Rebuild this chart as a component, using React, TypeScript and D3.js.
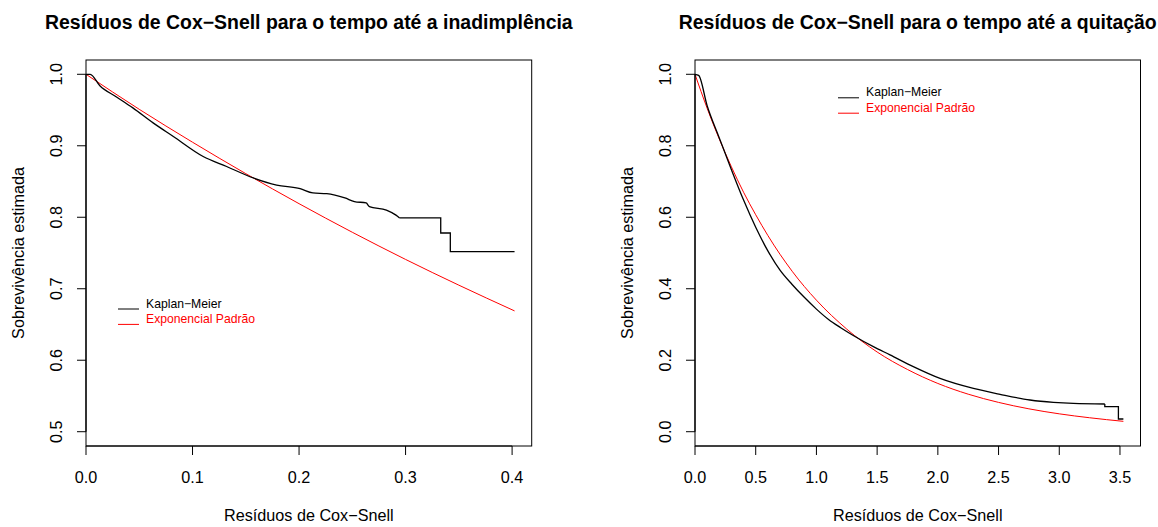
import React from "react";
import * as d3 from "d3";

// ---- Panel 1: tempo até a inadimplência ----
const defaultTitle = "Resíduos de Cox−Snell para o tempo até a inadimplência";
const defaultXTicks = [0.0, 0.1, 0.2, 0.3, 0.4];
const defaultYTicks = [0.5, 0.6, 0.7, 0.8, 0.9, 1.0];
// Kaplan–Meier estimate of the residuals: smooth-looking body, then the step tail
const defaultKmBodyX = [0, 0.004, 0.013, 0.029, 0.044, 0.063, 0.082, 0.110, 0.132, 0.157, 0.179, 0.201, 0.213, 0.226, 0.243, 0.252, 0.263, 0.266, 0.282, 0.291, 0.2944];
const defaultKmBodyY = [1.0, 1.0, 0.984, 0.968, 0.953, 0.932, 0.913, 0.885, 0.871, 0.855, 0.845, 0.840, 0.834, 0.833, 0.827, 0.822, 0.820, 0.815, 0.810, 0.803, 0.799];
const defaultKmTailX = [0.2944, 0.333, 0.333, 0.342, 0.342, 0.4023];
const defaultKmTailY = [0.799, 0.799, 0.778, 0.778, 0.752, 0.752];
// Standard exponential survival
const defaultExpX = [0, 0.05, 0.10, 0.15, 0.20, 0.25, 0.30, 0.35, 0.4023];
const defaultExpY = [1.0, 0.951, 0.905, 0.861, 0.819, 0.779, 0.741, 0.705, 0.669];

// ---- Panel 2: tempo até a quitação ----
const payoffTitle = "Resíduos de Cox−Snell para o tempo até a quitação";
const payoffXTicks = [0.0, 0.5, 1.0, 1.5, 2.0, 2.5, 3.0, 3.5];
const payoffYTicks = [0.0, 0.2, 0.4, 0.6, 0.8, 1.0];
const payoffKmBodyX = [0, 0.03, 0.10, 0.20, 0.30, 0.40, 0.50, 0.60, 0.70, 0.80, 0.90, 1.00, 1.10, 1.20, 1.30, 1.469, 1.606, 1.798, 2.018, 2.293, 2.512, 2.759, 2.952, 3.116, 3.375];
const payoffKmBodyY = [1.0, 0.997, 0.912, 0.822, 0.733, 0.648, 0.572, 0.506, 0.452, 0.412, 0.376, 0.343, 0.314, 0.291, 0.270, 0.238, 0.215, 0.182, 0.149, 0.121, 0.1046, 0.0887, 0.082, 0.079, 0.0775];
const payoffKmTailX = [3.375, 3.375, 3.487, 3.487, 3.528];
const payoffKmTailY = [0.0775, 0.070, 0.070, 0.0355, 0.0355];
const payoffExpX = [0, 0.1, 0.2, 0.3, 0.4, 0.5, 0.6, 0.8, 1.0, 1.25, 1.5, 1.75, 2.0, 2.25, 2.5, 2.75, 3.0, 3.25, 3.528];
const payoffExpY = [1.0, 0.905, 0.819, 0.741, 0.670, 0.607, 0.549, 0.449, 0.368, 0.287, 0.223, 0.174, 0.135, 0.105, 0.082, 0.064, 0.050, 0.039, 0.029];

const legendLabels = ["Kaplan−Meier", "Exponencial Padrão"];
const legendColors = ["#000000", "#ff0000"];

const xLabel = "Resíduos de Cox−Snell";
const yLabel = "Sobrevivência estimada";

const FONT = "'Liberation Sans', Arial, Helvetica, sans-serif";
const BASE = 16.2;

type PanelProps = {
  left: number;
  right: number;
  top: number;
  bottom: number;
  xDomain: [number, number];
  yDomain: [number, number];
  title: string;
  xTicks: number[];
  yTicks: number[];
  kmBodyX: number[];
  kmBodyY: number[];
  kmTailX: number[];
  kmTailY: number[];
  expX: number[];
  expY: number[];
  legendX: number;
  legendY: number;
};

const zip = (a: number[], b: number[]) => a.map((v, i) => [v, b[i]] as [number, number]);

function Panel(p: PanelProps) {
  const x = d3.scaleLinear().domain(p.xDomain).range([p.left, p.right]);
  const y = d3.scaleLinear().domain(p.yDomain).range([p.bottom, p.top]);
  const fmt = d3.format(".1f");

  const smooth = d3
    .line<[number, number]>()
    .x((d) => x(d[0]))
    .y((d) => y(d[1]))
    .curve(d3.curveMonotoneX);
  const straight = d3
    .line<[number, number]>()
    .x((d) => x(d[0]))
    .y((d) => y(d[1]))
    .curve(d3.curveLinear);

  const cx = (p.left + p.right) / 2;
  const cy = (p.top + p.bottom) / 2;
  const xt0 = x(p.xTicks[0]);
  const xt1 = x(p.xTicks[p.xTicks.length - 1]);
  const yt0 = y(p.yTicks[0]);
  const yt1 = y(p.yTicks[p.yTicks.length - 1]);
  const tick = 9;

  return (
    <g fontFamily={FONT}>
      <text x={cx} y={28.5} textAnchor="middle" fontWeight="bold" fontSize={BASE * 1.2} fill="#000">
        {p.title}
      </text>

      <path d={smooth(zip(p.expX, p.expY)) || ""} fill="none" stroke="#ff0000" strokeWidth={1} />
      <path d={smooth(zip(p.kmBodyX, p.kmBodyY)) || ""} fill="none" stroke="#000" strokeWidth={1.3} />
      <path d={straight(zip(p.kmTailX, p.kmTailY)) || ""} fill="none" stroke="#000" strokeWidth={1.3} />

      <rect
        x={p.left}
        y={p.top}
        width={p.right - p.left}
        height={p.bottom - p.top}
        fill="none"
        stroke="#000"
        strokeWidth={1}
      />

      {/* x axis */}
      <line x1={xt0} x2={xt1} y1={p.bottom} y2={p.bottom} stroke="#000" strokeWidth={1.2} />
      {p.xTicks.map((t) => (
        <g key={"xt" + t}>
          <line x1={x(t)} x2={x(t)} y1={p.bottom} y2={p.bottom + tick} stroke="#000" strokeWidth={1} />
          <text x={x(t)} y={482.5} textAnchor="middle" fontSize={BASE} fill="#000">
            {fmt(t)}
          </text>
        </g>
      ))}
      <text x={cx} y={521} textAnchor="middle" fontSize={BASE} fill="#000">
        {xLabel}
      </text>

      {/* y axis */}
      <line x1={p.left} x2={p.left} y1={yt0} y2={yt1} stroke="#000" strokeWidth={1.2} />
      {p.yTicks.map((t) => (
        <g key={"yt" + t}>
          <line x1={p.left - tick} x2={p.left} y1={y(t)} y2={y(t)} stroke="#000" strokeWidth={1} />
          <text
            transform={`translate(${p.left - 30},${y(t)}) rotate(-90)`}
            textAnchor="middle"
            dominantBaseline="central"
            fontSize={BASE}
            fill="#000"
          >
            {fmt(t)}
          </text>
        </g>
      ))}
      <text
        transform={`translate(${p.left - 68.5},${cy}) rotate(-90)`}
        textAnchor="middle"
        dominantBaseline="central"
        fontSize={BASE}
        fill="#000"
      >
        {yLabel}
      </text>

      {/* legend */}
      {legendLabels.map((lab, i) => (
        <g key={lab}>
          <line
            x1={p.legendX}
            x2={p.legendX + 21}
            y1={p.legendY + i * 15.4 + 5.5}
            y2={p.legendY + i * 15.4 + 5.5}
            stroke={legendColors[i]}
            strokeWidth={1}
          />
          <text
            x={p.legendX + 28}
            y={p.legendY + i * 15.4}
            dominantBaseline="central"
            fontSize={12.2}
            fill={legendColors[i]}
          >
            {lab}
          </text>
        </g>
      ))}
    </g>
  );
}

export default function App() {
  return (
    <div style={{ position: "fixed", left: 0, top: 0, width: 1158, height: 527, background: "#fff" }}>
      <svg width={1158} height={527} style={{ display: "block" }}>
        <rect x={0} y={0} width={1158} height={527} fill="#fff" />
        <Panel
          left={86}
          right={531.7}
          top={60}
          bottom={446}
          xDomain={[0, 0.4184]}
          yDomain={[0.48, 1.02]}
          title={defaultTitle}
          xTicks={defaultXTicks}
          yTicks={defaultYTicks}
          kmBodyX={defaultKmBodyX}
          kmBodyY={defaultKmBodyY}
          kmTailX={defaultKmTailX}
          kmTailY={defaultKmTailY}
          expX={defaultExpX}
          expY={defaultExpY}
          legendX={118}
          legendY={303.5}
        />
        <Panel
          left={695}
          right={1140.5}
          top={60}
          bottom={446}
          xDomain={[0, 3.669]}
          yDomain={[-0.04, 1.04]}
          title={payoffTitle}
          xTicks={payoffXTicks}
          yTicks={payoffYTicks}
          kmBodyX={payoffKmBodyX}
          kmBodyY={payoffKmBodyY}
          kmTailX={payoffKmTailX}
          kmTailY={payoffKmTailY}
          expX={payoffExpX}
          expY={payoffExpY}
          legendX={838}
          legendY={92.3}
        />
      </svg>
    </div>
  );
}
